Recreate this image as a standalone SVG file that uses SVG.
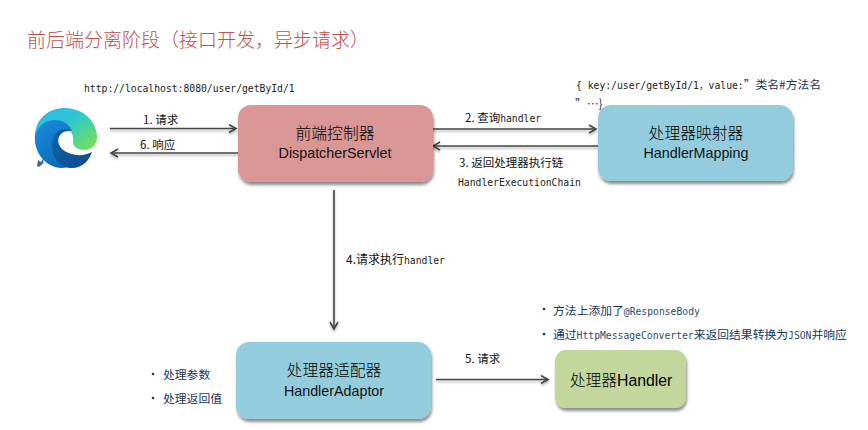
<svg xmlns="http://www.w3.org/2000/svg" width="868" height="430" viewBox="0 0 868 430">
<style>
text{font-family:"Liberation Sans","Noto Sans CJK SC",sans-serif;fill:#111}
.cjk{font-family:"Noto Sans CJK SC",sans-serif}
.m{font-family:"DejaVu Sans Mono","Noto Sans CJK SC",monospace;font-size:9.73px;fill:#222}
.lb{font-family:"Noto Sans CJK SC",sans-serif;font-size:11.5px;fill:#111}
.b{font-family:"Noto Sans CJK SC",sans-serif;font-size:11.8px;fill:#17365d}
.bm{font-family:"DejaVu Sans Mono",monospace;font-size:9.73px;fill:#2b4a75}
.n1{font-family:"Noto Sans CJK SC",sans-serif;font-size:15.8px;font-weight:300;text-anchor:middle;fill:#000}
.n2{font-size:14.3px;text-anchor:middle;fill:#111}
.c{fill:none;stroke:#444;stroke-width:1.6;marker-end:url(#a);filter:url(#ls)}
</style>
<defs>
<marker id="a" markerUnits="userSpaceOnUse" markerWidth="12" markerHeight="12" refX="8" refY="5" orient="auto"><path d="M1 1 L8 5 L1 9" fill="none" stroke="#444" stroke-width="1.6"/></marker>
<filter id="sh" x="-10%" y="-10%" width="120%" height="125%"><feDropShadow dx="1" dy="3" stdDeviation="1.5" flood-color="#000" flood-opacity=".45"/></filter>
<filter id="ls" x="0" y="0" width="868" height="430" filterUnits="userSpaceOnUse"><feDropShadow dx="0" dy="2" stdDeviation="1" flood-color="#000" flood-opacity=".3"/></filter>
<linearGradient id="e1" x1="0" y1="0" x2="1" y2=".8"><stop offset="0" stop-color="#2fb6ee"/><stop offset=".5" stop-color="#2cc8cf"/><stop offset="1" stop-color="#6fe05a"/></linearGradient>
<linearGradient id="e2" x1="0" y1="0" x2=".6" y2="1"><stop offset="0" stop-color="#1a8fdc"/><stop offset="1" stop-color="#0b6ab8"/></linearGradient>
<linearGradient id="e3" x1="0" y1="0" x2="1" y2="1"><stop offset="0" stop-color="#0d63a8"/><stop offset="1" stop-color="#114a8e"/></linearGradient>
</defs>
<rect width="868" height="430" fill="#fff"/>
<text id="title" x="27" y="47" class="cjk" font-size="19" font-weight="300" style="fill:#c0504d">前后端分离阶段（接口开发，异步请求）</text>
<g id="browser">
<path d="M35 135 C36 118 49 108 65 108 C84 108 97 122 97 137 C97 146 90 150 84 150 C77 150 73 146 73 142 C74 137 72 130 65 126 C55 120 40 122 35 135Z" fill="url(#e1)"/>
<path d="M35 135 C38 125 47 120 55 120 C63 120 69 124 72 131 C64 128 58 131 56 137 C52 148 55 160 68 167 C50 172 33 155 35 135Z" fill="url(#e2)"/>
<path d="M72 131 C62 125 52 133 52 145 C52 160 62 168 72 168 C82 168 89 161 92 152 C83 157 70 156 62 149 C57 144 57 137 62 133 C65 131 68 131 72 131Z" fill="url(#e3)"/>
<path d="M37 166 L38 160 L41 162 L44 157 L43 163 L46 161 L39 167Z" fill="#3d6aa5"/>
</g>
<text id="url" x="84" y="92" class="m">http://localhost:8080/user/getById/1</text>
<g id="connectors">
<path class="c" d="M110 128.5 H236"/>
<path class="c" d="M238 153 H111"/>
<path class="c" d="M431 129 H596"/>
<path class="c" d="M598 146 H433"/>
<path class="c" d="M334 190 V329"/>
<path class="c" d="M436 379.5 H548"/>
</g>
<g id="edge-labels">
<text x="143" y="124" class="lb">1. 请求</text>
<text x="140" y="149" class="lb">6. 响应</text>
<text x="465" y="122" class="lb">2. 查询<tspan class="m">handler</tspan></text>
<text x="459" y="166.5" class="lb">3. 返回处理器执行链</text>
<text x="458" y="186" class="m">HandlerExecutionChain</text>
<text x="346" y="264" class="lb" style="font-size:12px">4.请求执行<tspan class="m">handler</tspan></text>
<text x="465" y="363" class="lb">5. 请求</text>
</g>
<g id="dispatcher">
<rect x="238" y="105" width="195" height="77" rx="13" fill="#d99694" filter="url(#sh)"/>
<text x="335" y="139" class="n1">前端控制器</text>
<text x="335" y="158" class="n2">DispatcherServlet</text>
</g>
<g id="mapping">
<rect x="598" y="105" width="195" height="76" rx="13" fill="#93cddd" filter="url(#sh)"/>
<text x="696" y="139" class="n1">处理器映射器</text>
<text x="696" y="158" class="n2">HandlerMapping</text>
</g>
<g id="adaptor">
<rect x="236" y="342" width="195" height="77" rx="13" fill="#93cddd" filter="url(#sh)"/>
<text x="334" y="376" class="n1">处理器适配器</text>
<text x="334" y="396" class="n2">HandlerAdaptor</text>
</g>
<g id="handler">
<rect x="555" y="350" width="131" height="58" rx="11" fill="#c3d69b" filter="url(#sh)"/>
<text x="621" y="386" class="n1"><tspan>处理器</tspan><tspan style="font-family:'Liberation Sans'">Handler</tspan></text>
</g>
<g id="map-note">
<text x="576" y="89" class="m">{ key:/user/getById/1，value:<tspan class="b">”类名#方法名</tspan></text>
<text x="575" y="108" class="b">”…}</text>
</g>
<g id="adaptor-notes">
<circle cx="153" cy="374" r="1.3" fill="#17365d"/>
<text x="163" y="379" class="b">处理参数</text>
<circle cx="153" cy="398" r="1.3" fill="#17365d"/>
<text x="163" y="403" class="b">处理返回值</text>
</g>
<g id="handler-notes">
<circle cx="544" cy="309" r="1.3" fill="#17365d"/>
<text x="553" y="315" class="b">方法上添加了<tspan class="bm">@ResponseBody</tspan></text>
<circle cx="544" cy="334" r="1.3" fill="#17365d"/>
<text x="553" y="339" class="b">通过<tspan class="bm">HttpMessageConverter</tspan>来返回结果转换为<tspan class="bm">JSON</tspan>并响应</text>
</g>
</svg>
